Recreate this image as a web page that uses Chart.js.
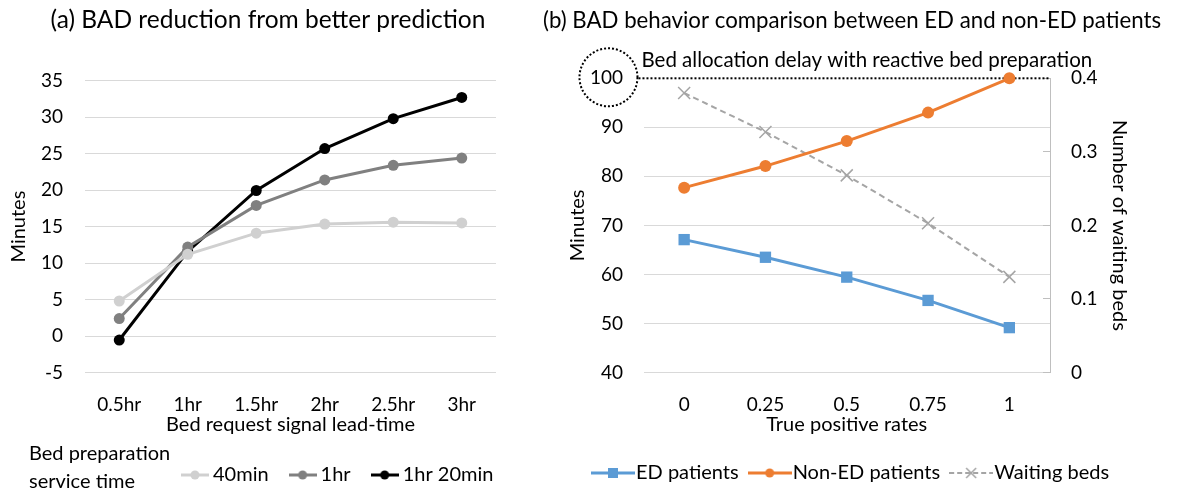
<!DOCTYPE html>
<html>
<head>
<meta charset="utf-8">
<script src="https://cdn.jsdelivr.net/npm/chart.js@4.4.1/dist/chart.umd.min.js"></script>
<style>
  html, body { margin: 0; padding: 0; background: #fff; }
  #wrap { position: relative; width: 1178px; height: 491px; overflow: hidden; }
  #boxA { position: absolute; left: 0; top: 0; width: 560px; height: 491px; }
  #boxB { position: absolute; left: 520px; top: 0; width: 658px; height: 491px; }
</style>
</head>
<body>
<div id="wrap">
  <div id="boxA"><canvas id="chartA"></canvas></div>
  <div id="boxB"><canvas id="chartB"></canvas></div>
</div>
<script>
// (a) lead-time chart
const leadTimes = ['0.5hr', '1hr', '1.5hr', '2hr', '2.5hr', '3hr']
const bad40min = [4.8, 11.2, 14.1, 15.35, 15.6, 15.5]
const bad1hr = [2.4, 12.2, 17.9, 21.4, 23.4, 24.4]
const bad1hr20 = [-0.55, 11.6, 19.95, 25.7, 29.8, 32.7]
const prepTimes = ['40min', '1hr', '1hr 20min']
const legendCaption = ['Bed preparation', 'service time']

// (b) true positive rate chart
const tpRates = ['0', '0.25', '0.5', '0.75', '1']
const edMinutes = [67.1, 63.5, 59.45, 54.7, 49.15]
const nonEdMinutes = [77.7, 82.1, 87.2, 93.0, 100]
const waitingBeds = [0.380, 0.327, 0.268, 0.203, 0.130]
const reactiveDelay = 100
const reactiveText = 'Bed allocation delay with reactive bed preparation'

const FONT = 'Lato, "Open Sans", sans-serif'
Chart.defaults.font.family = FONT
Chart.defaults.color = '#000'
Chart.defaults.font.size = 19

const GRID = '#d9d9d9'

// little legend icons: line with marker in the middle
function legendIcon(w, color, marker, dash) {
  const c = document.createElement('canvas')
  c.width = w
  c.height = 16
  const g = c.getContext('2d')
  g.strokeStyle = color
  g.lineWidth = dash ? 2 : 3
  g.setLineDash(dash || [])
  g.beginPath()
  g.moveTo(0, 8)
  g.lineTo(w, 8)
  g.stroke()
  g.setLineDash([])
  g.fillStyle = color
  if (marker === 'circle') {
    g.beginPath(); g.arc(w / 2, 8, 4.5, 0, Math.PI * 2); g.fill()
  } else if (marker === 'rect') {
    g.fillRect(w / 2 - 5, 3, 10, 10)
  } else if (marker === 'x') {
    g.lineWidth = 1.5
    g.beginPath()
    g.moveTo(w / 2 - 5, 3); g.lineTo(w / 2 + 5, 13)
    g.moveTo(w / 2 + 5, 3); g.lineTo(w / 2 - 5, 13)
    g.stroke()
  }
  return c
}

// moves title / legend sideways after layout
const nudge = {
  id: 'nudge',
  afterLayout(chart, args, opts) {
    const t = chart.titleBlock, l = chart.legend
    if (t && opts.titleX) { t.left += opts.titleX; t.right += opts.titleX }
    if (l) {
      l.left += opts.legendX || 0; l.right += opts.legendX || 0
      l.top += opts.legendY || 0; l.bottom += opts.legendY || 0
    }
  }
}

function iconLabels(icons) {
  return chart => Chart.defaults.plugins.legend.labels.generateLabels(chart)
    .map(item => ({ ...item, pointStyle: icons[item.datasetIndex] }))
}

//Grafico (a)
const captionPlugin = {
  id: 'caption',
  afterDraw(chart) {
    const ctx = chart.ctx
    const l = chart.legend
    const mid = l.top + l.options.labels.padding + 10
    ctx.save()
    ctx.font = '20px ' + FONT
    ctx.fillStyle = '#000'
    ctx.textBaseline = 'middle'
    ctx.textAlign = 'left'
    ctx.fillText(legendCaption[0], 29, mid - 21)
    ctx.fillText(legendCaption[1], 29, mid + 7)
    ctx.restore()
  }
}

const colorsA = ['#d0d0d0', '#808080', '#000000']
const iconsA = colorsA.map(c => legendIcon(28, c, 'circle'))

new Chart(document.getElementById('chartA'), {
  type: 'line',
  data: {
    labels: leadTimes,
    datasets: [bad40min, bad1hr, bad1hr20].map((d, i) => ({
      label: prepTimes[i],
      data: d,
      borderColor: colorsA[i],
      backgroundColor: colorsA[i],
      pointBackgroundColor: colorsA[i],
      pointBorderWidth: 0,
      pointRadius: 5.5,
      borderWidth: 3,
      clip: false
    }))
  },
  options: {
    responsive: true,
    maintainAspectRatio: false,
    animation: false,
    layout: { padding: { left: 0, right: 64, top: 0, bottom: 0 } },
    plugins: {
      title: {
        display: true,
        text: '(a) BAD reduction from better prediction',
        font: { size: 24.5, weight: 'normal' },
        color: '#000',
        padding: { top: 5, bottom: 46.3 }
      },
      legend: {
        position: 'bottom',
        align: 'start',
        labels: {
          usePointStyle: true,
          pointStyleWidth: 16,
          padding: 26,
          font: { size: 20 },
          generateLabels: iconLabels(iconsA)
        }
      },
      tooltip: { enabled: false },
      nudge: { titleX: 20, legendX: 161, legendY: 4 }
    },
    scales: {
      x: {
        offset: true,
        grid: { display: false },
        border: { display: false },
        ticks: { padding: 12.5 },
        title: { display: true, text: 'Bed request signal lead-time', font: { size: 20 }, padding: { top: 0, bottom: -2 } },
        afterFit(s) { s.height = 62.5 }
      },
      y: {
        min: -5,
        max: 35,
        ticks: { stepSize: 5, padding: 22 },
        grid: { color: GRID, drawTicks: false },
        border: { display: false },
        title: { display: true, text: 'Minutes', font: { size: 20 }, padding: { top: 7, bottom: 0 } },
        afterFit(s) { s.width = 85 }
      }
    }
  },
  plugins: [nudge, captionPlugin]
})

//Grafico (b)
const reactivePlugin = {
  id: 'reactive',
  beforeDatasetsDraw(chart) {
    const { ctx, chartArea } = chart
    const ys = chart.scales.y
    const y = ys.getPixelForValue(reactiveDelay)
    ctx.save()
    ctx.font = '19px ' + FONT
    const w = ctx.measureText(String(reactiveDelay)).width
    const cx = ys.right - 20.5 - w / 2 + 2
    ctx.strokeStyle = '#000'
    ctx.lineWidth = 2
    ctx.setLineDash([2, 2])
    ctx.beginPath()
    ctx.moveTo(cx + 30, y)
    ctx.lineTo(chartArea.right, y)
    ctx.stroke()
    ctx.beginPath()
    ctx.arc(cx, y - 1, 29, 0, Math.PI * 2)
    ctx.stroke()
    ctx.setLineDash([])
    ctx.font = '20.5px ' + FONT
    ctx.fillStyle = '#000'
    ctx.textBaseline = 'middle'
    ctx.fillText(reactiveText, cx + 33, y - 17.5)
    ctx.restore()
  }
}

const iconsB = [
  legendIcon(44, '#5b9bd5', 'rect'),
  legendIcon(44, '#ed7d31', 'circle'),
  legendIcon(44, '#a5a5a5', 'x', [5, 3])
]

new Chart(document.getElementById('chartB'), {
  type: 'line',
  data: {
    labels: tpRates,
    datasets: [
      {
        label: 'ED patients',
        data: edMinutes,
        yAxisID: 'y',
        borderColor: '#5b9bd5',
        backgroundColor: '#5b9bd5',
        pointStyle: 'rect',
        pointRadius: 8,
        pointBorderWidth: 0,
        borderWidth: 3,
        clip: false
      },
      {
        label: 'Non-ED patients',
        data: nonEdMinutes,
        yAxisID: 'y',
        borderColor: '#ed7d31',
        backgroundColor: '#ed7d31',
        pointStyle: 'circle',
        pointRadius: 6,
        pointBorderWidth: 0,
        borderWidth: 3,
        clip: false
      },
      {
        label: 'Waiting beds',
        data: waitingBeds,
        yAxisID: 'y1',
        borderColor: '#a5a5a5',
        backgroundColor: '#a5a5a5',
        borderDash: [6, 4],
        pointStyle: 'crossRot',
        pointRadius: 8.5,
        pointBorderWidth: 1.5,
        pointBorderColor: '#a5a5a5',
        borderWidth: 2,
        clip: false
      }
    ]
  },
  options: {
    responsive: true,
    maintainAspectRatio: false,
    animation: false,
    layout: { padding: { left: 40, right: 0, top: 0, bottom: 0 } },
    plugins: {
      title: {
        display: true,
        text: '(b) BAD behavior comparison between ED and non-ED patients',
        font: { size: 23.5, weight: 'normal' },
        color: '#000',
        padding: { top: 6, bottom: 44.1 }
      },
      legend: {
        position: 'bottom',
        align: 'start',
        labels: {
          usePointStyle: true,
          pointStyleWidth: 26,
          padding: 18,
          font: { size: 20 },
          generateLabels: iconLabels(iconsB)
        }
      },
      tooltip: { enabled: false },
      nudge: { titleX: -17, legendX: 22, legendY: 2 }
    },
    scales: {
      x: {
        offset: true,
        grid: { display: false },
        border: { display: false },
        ticks: { padding: 12.5 },
        title: { display: true, text: 'True positive rates', font: { size: 20 }, padding: { top: 0, bottom: 6 } },
        afterFit(s) { s.height = 70.5 }
      },
      y: {
        position: 'left',
        min: 40,
        max: 100,
        ticks: { stepSize: 10, padding: 20.5 },
        grid: { color: c => (c.tick && c.tick.value === reactiveDelay ? 'rgba(0,0,0,0)' : GRID), drawTicks: false },
        border: { display: false },
        title: { display: true, text: 'Minutes', font: { size: 20 }, padding: { top: 6, bottom: 0 } },
        afterFit(s) { s.width = 83.5 }
      },
      y1: {
        position: 'right',
        min: 0,
        max: 0.4,
        ticks: { stepSize: 0.1, padding: 28 },
        grid: { drawOnChartArea: false, drawTicks: true, tickLength: -7, color: '#bfbfbf' },
        border: { display: true, color: '#bfbfbf' },
        title: { display: true, text: 'Number of waiting beds', font: { size: 20 }, padding: { top: 47, bottom: 0 } },
        afterFit(s) { s.width = 128 }
      }
    }
  },
  plugins: [nudge, reactivePlugin]
})
</script>
</body>
</html>
